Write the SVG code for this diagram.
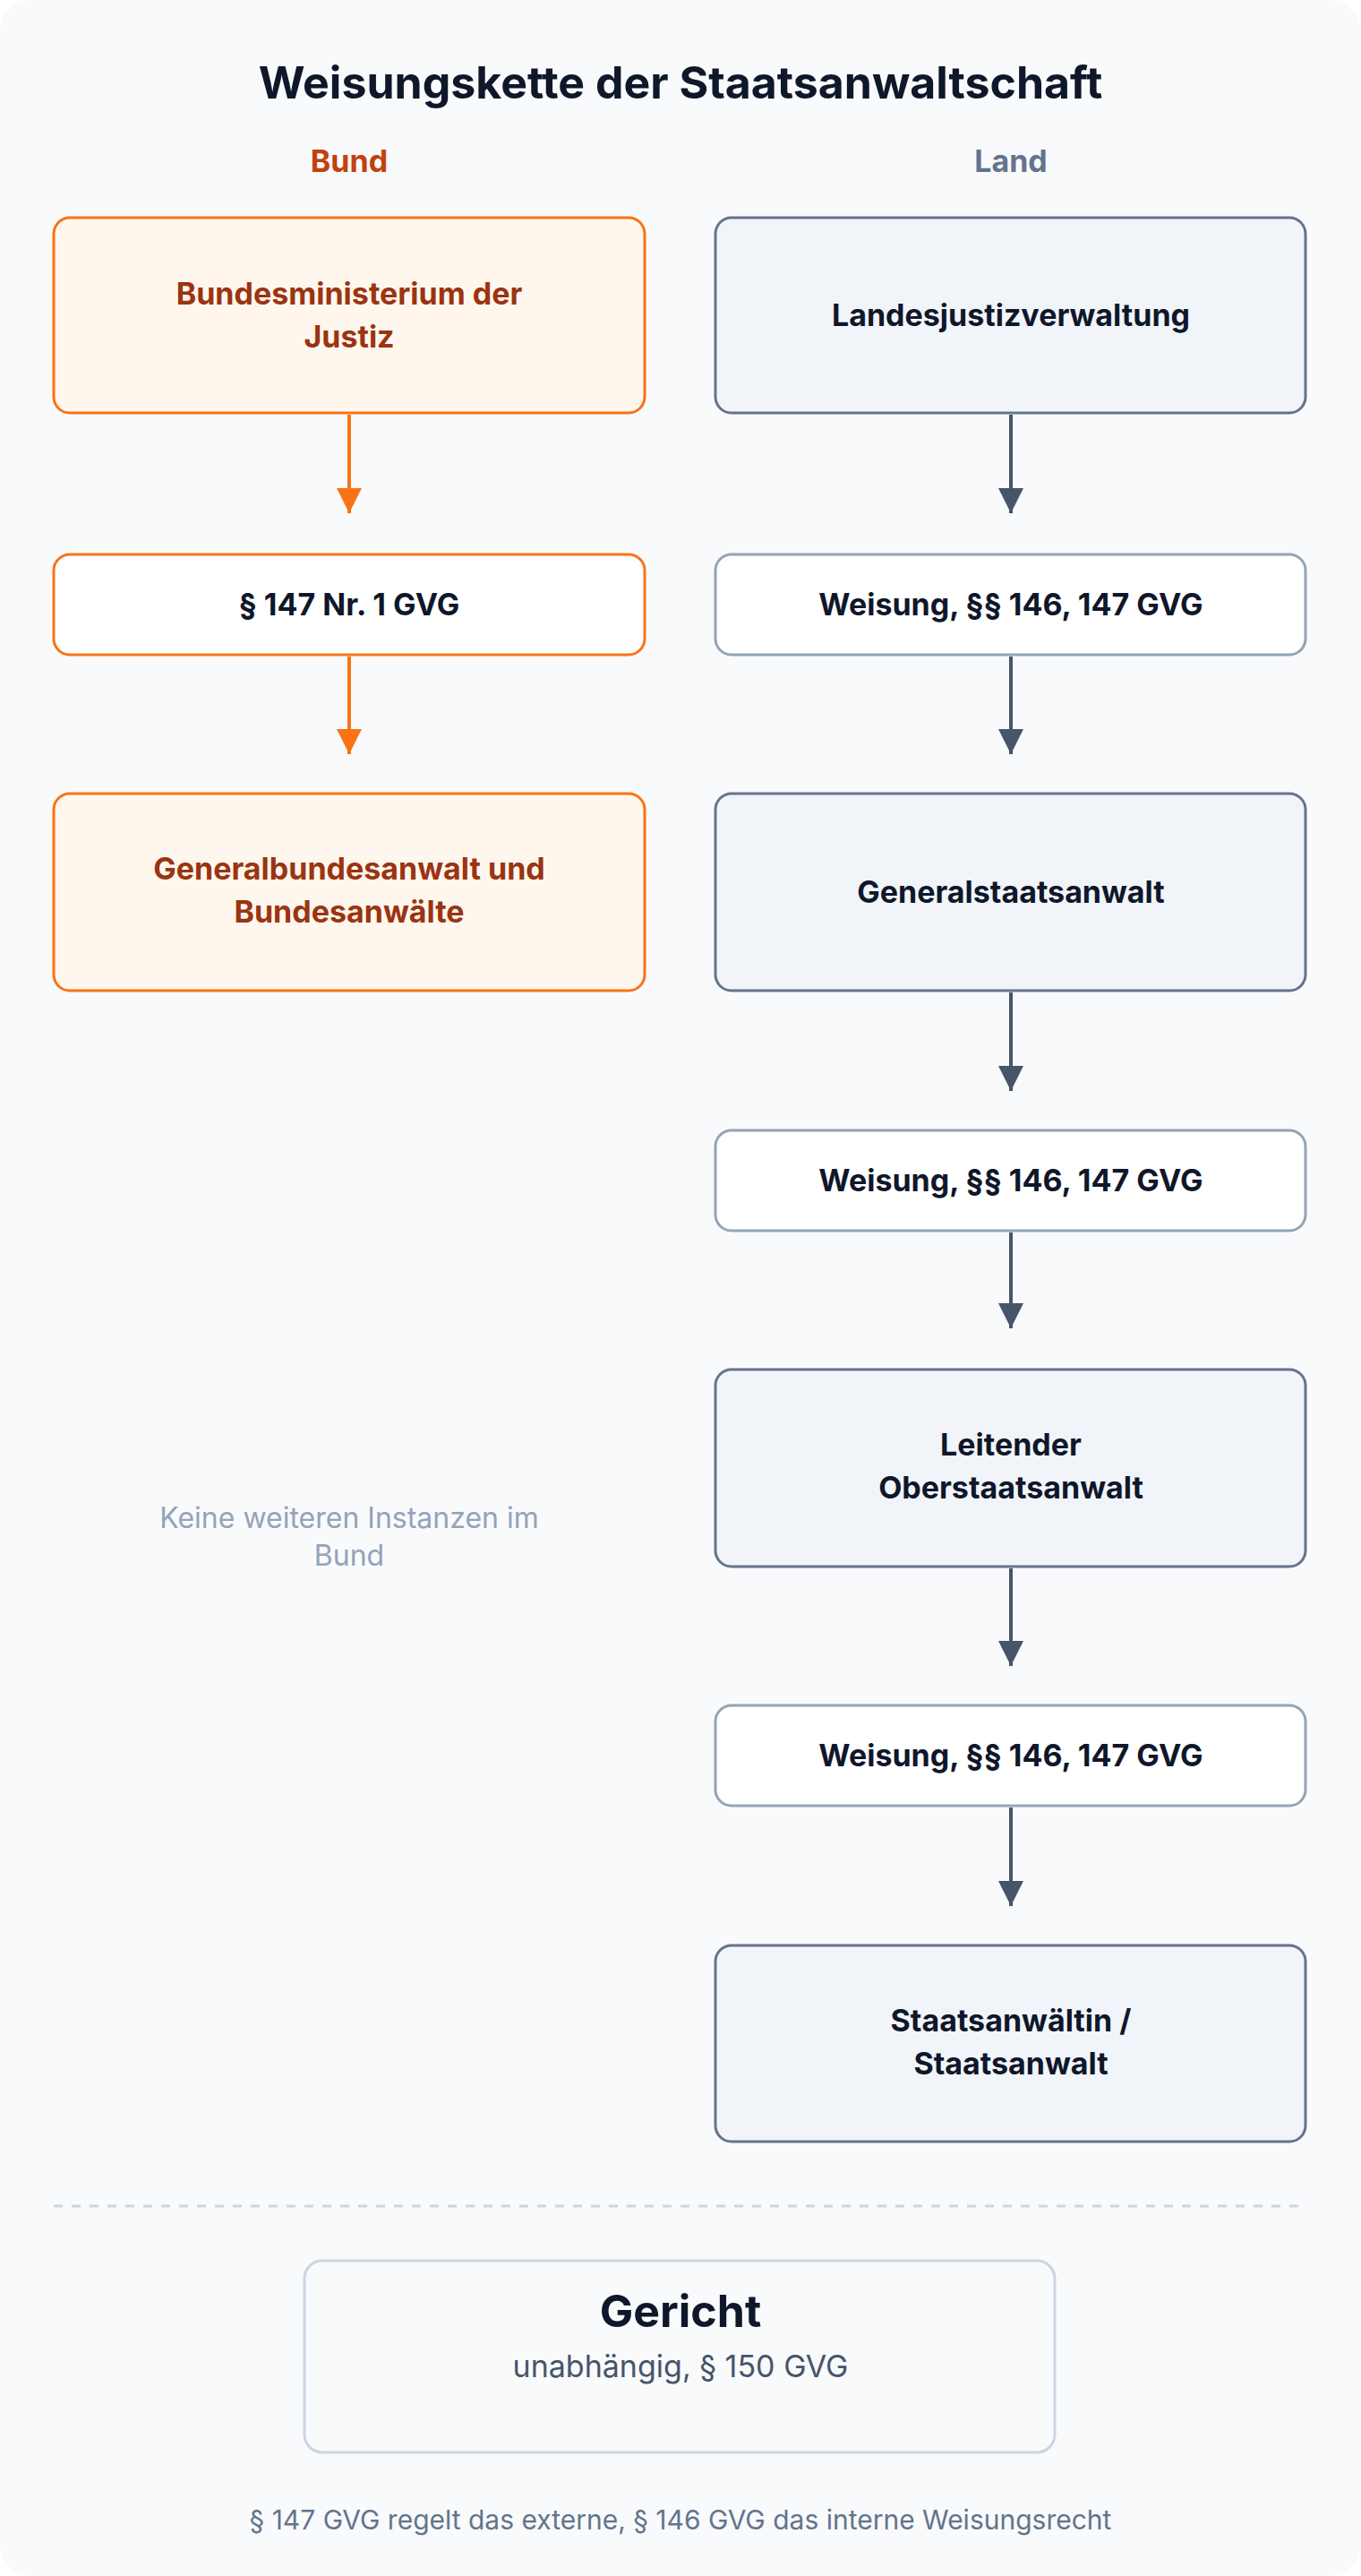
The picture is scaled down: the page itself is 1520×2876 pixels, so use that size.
<svg xmlns="http://www.w3.org/2000/svg" width="1520" height="2876" viewBox="0 0 1520 2876">
<defs>
<style>
text{font-family:Inter,"Noto Sans","Liberation Sans",sans-serif;text-anchor:middle}
.t{font-weight:700;font-size:34px}
.ob{fill:#fff7ed;stroke:#f97316;stroke-width:3}
.ow{fill:#fff;stroke:#f97316;stroke-width:3}
.sb{fill:#f1f5f9;stroke:#64748b;stroke-width:3}
.sw{fill:#fff;stroke:#94a3b8;stroke-width:3}
.ot{fill:#9a3412}
.st{fill:#0f172a}
.ao{stroke:#f97316;stroke-width:4;fill:none}
.as{stroke:#475569;stroke-width:4;fill:none}
</style>
<marker id="mo" viewBox="0 0 10 10" refX="10" refY="5" markerWidth="7" markerHeight="8" markerUnits="strokeWidth" orient="auto"><path d="M0,0L10,5L0,10z" fill="#f97316"/></marker>
<marker id="ms" viewBox="0 0 10 10" refX="10" refY="5" markerWidth="7" markerHeight="8" markerUnits="strokeWidth" orient="auto"><path d="M0,0L10,5L0,10z" fill="#475569"/></marker>
</defs>
<rect x="0" y="0" width="1520" height="2876" rx="36" fill="#f8fafc"/>
<text x="760" y="110" font-size="50" font-weight="700" fill="#0f172a">Weisungskette der Staatsanwaltschaft</text>
<text x="390" y="192" font-size="34" font-weight="700" fill="#c2410c">Bund</text>
<text x="1129" y="192" font-size="34" font-weight="700" fill="#64748b">Land</text>

<g id="b1"><rect class="ob" x="60" y="243" width="660" height="218" rx="18"/><text class="t ot" x="390" y="340">Bundesministerium der</text><text class="t ot" x="390" y="388">Justiz</text></g>
<g id="b2"><rect class="ow" x="60" y="619" width="660" height="112" rx="18"/><text class="t st" x="390" y="687">§ 147 Nr. 1 GVG</text></g>
<g id="b3"><rect class="ob" x="60" y="886" width="660" height="220" rx="18"/><text class="t ot" x="390" y="982">Generalbundesanwalt und</text><text class="t ot" x="390" y="1030">Bundesanwälte</text></g>
<g id="bnote"><text x="390" y="1706" font-size="32" fill="#94a3b8">Keine weiteren Instanzen im</text><text x="390" y="1748" font-size="32" fill="#94a3b8">Bund</text></g>

<g id="l1"><rect class="sb" x="799" y="243" width="659" height="218" rx="18"/><text class="t st" x="1129" y="364">Landesjustizverwaltung</text></g>
<g id="l2"><rect class="sw" x="799" y="619" width="659" height="112" rx="18"/><text class="t st" x="1129" y="687">Weisung, §§ 146, 147 GVG</text></g>
<g id="l3"><rect class="sb" x="799" y="886" width="659" height="220" rx="18"/><text class="t st" x="1129" y="1008">Generalstaatsanwalt</text></g>
<g id="l4"><rect class="sw" x="799" y="1262" width="659" height="112" rx="18"/><text class="t st" x="1129" y="1330">Weisung, §§ 146, 147 GVG</text></g>
<g id="l5"><rect class="sb" x="799" y="1529" width="659" height="220" rx="18"/><text class="t st" x="1129" y="1625">Leitender</text><text class="t st" x="1129" y="1673">Oberstaatsanwalt</text></g>
<g id="l6"><rect class="sw" x="799" y="1904" width="659" height="112" rx="18"/><text class="t st" x="1129" y="1972">Weisung, §§ 146, 147 GVG</text></g>
<g id="l7"><rect class="sb" x="799" y="2172" width="659" height="219" rx="18"/><text class="t st" x="1129" y="2268">Staatsanwältin /</text><text class="t st" x="1129" y="2316">Staatsanwalt</text></g>

<g id="connectors">
<line class="ao" x1="390" y1="463" x2="390" y2="573" marker-end="url(#mo)"/>
<line class="ao" x1="390" y1="733" x2="390" y2="842" marker-end="url(#mo)"/>
<line class="as" x1="1129" y1="463" x2="1129" y2="573" marker-end="url(#ms)"/>
<line class="as" x1="1129" y1="733" x2="1129" y2="842" marker-end="url(#ms)"/>
<line class="as" x1="1129" y1="1108" x2="1129" y2="1218" marker-end="url(#ms)"/>
<line class="as" x1="1129" y1="1376" x2="1129" y2="1483" marker-end="url(#ms)"/>
<line class="as" x1="1129" y1="1751" x2="1129" y2="1860" marker-end="url(#ms)"/>
<line class="as" x1="1129" y1="2018" x2="1129" y2="2128" marker-end="url(#ms)"/>
</g>

<line x1="60" y1="2463" x2="1458" y2="2463" stroke="#cbd5e1" stroke-width="3" stroke-dasharray="10 10"/>
<g id="court"><rect x="340" y="2524" width="838" height="214" rx="20" fill="#f8fafc" stroke="#cbd5e1" stroke-width="3"/>
<text x="760" y="2598" font-size="50" font-weight="700" fill="#0f172a">Gericht</text>
<text x="760" y="2654" font-size="34" fill="#475569">unabhängig, § 150 GVG</text></g>
<text x="760" y="2824" font-size="30" fill="#64748b">§ 147 GVG regelt das externe, § 146 GVG das interne Weisungsrecht</text>
</svg>
